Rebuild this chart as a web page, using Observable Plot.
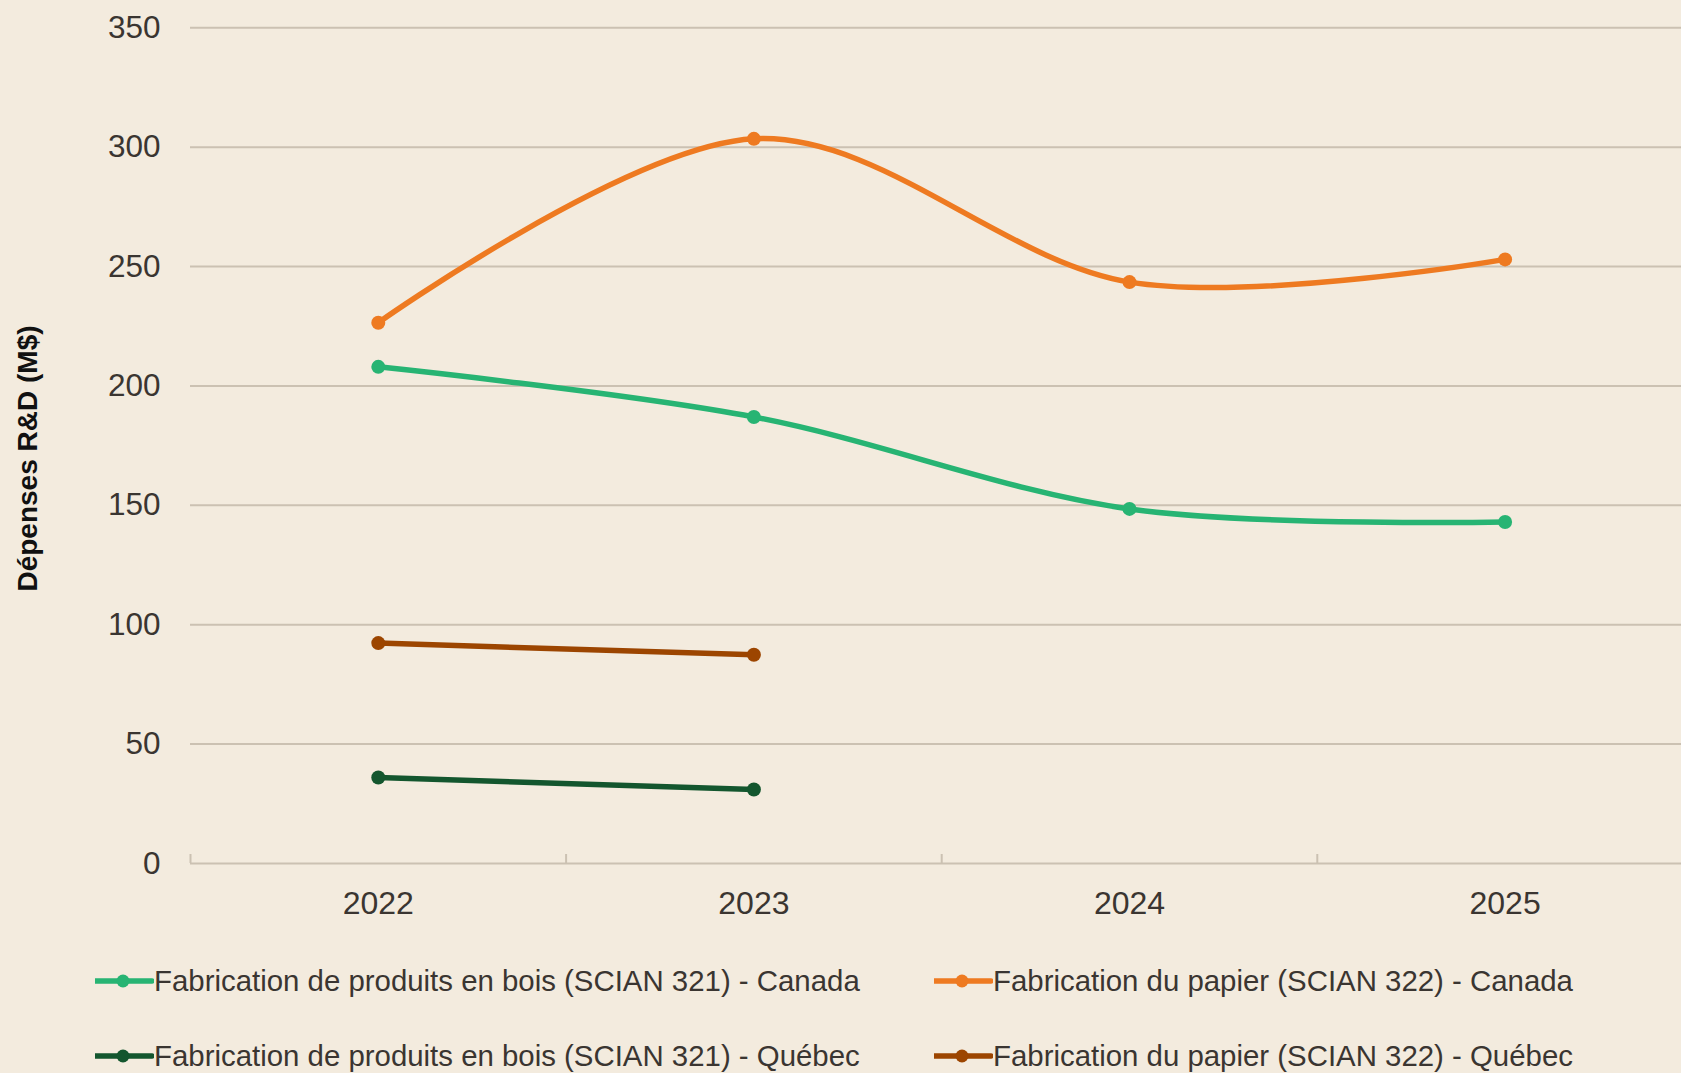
<!DOCTYPE html>
<html>
<head>
<meta charset="utf-8">
<script src="https://cdn.jsdelivr.net/npm/d3@7"></script>
<script src="https://cdn.jsdelivr.net/npm/@observablehq/plot@0.6"></script>
<style>
  html, body { margin: 0; padding: 0; background: #F3EBDE; overflow: hidden; }
  #wrap { position: relative; width: 1681px; height: 1073px; background: #F3EBDE; overflow: hidden; font-family: "Liberation Sans", Arial, sans-serif; }
  #wrap svg.plot { overflow: hidden; }
  .lg { position: absolute; display: flex; align-items: center; height: 40px; font-size: 29.4px; line-height: 40px; color: #3a3531; white-space: nowrap; }
  .lg svg { display: block; margin-right: 0; }
</style>
</head>
<body>
<div id="wrap"></div>
<script>
// ---- data ----
const years = [2022, 2023, 2024, 2025];
const seriesNames = [
  "Fabrication de produits en bois (SCIAN 321) - Canada",
  "Fabrication du papier (SCIAN 322) - Canada",
  "Fabrication de produits en bois (SCIAN 321) - Québec",
  "Fabrication du papier (SCIAN 322) - Québec"
];
const boisCanada   = [208, 187, 148.5, 143];
const papierCanada = [226.5, 303.5, 243.5, 253];
const boisQuebec   = [36, 31, null, null];
const papierQuebec = [92.3, 87.4, null, null];
const seriesColors = ["#27B473", "#EE7A21", "#13562E", "#9C4500"];
const seriesSmooth = [true, true, false, false];
const yTicks = [0, 50, 100, 150, 200, 250, 300, 350];
const yLabel = "Dépenses R&D (M$)";

// ---- build rows ----
const allValues = [boisCanada, papierCanada, boisQuebec, papierQuebec];
const series = seriesNames.map((name, i) => ({
  name, color: seriesColors[i], smooth: seriesSmooth[i],
  rows: years.map((year, j) => ({year, value: allValues[i][j], name}))
             .filter(d => d.value != null)
}));
const boundaries = years.slice(0, -1).map(y => y + 0.5).concat([years[0] - 0.5]);

const gridColor = "#CBC1B2";
const textColor = "#3a3531";

const marks = [
  Plot.gridY(yTicks.filter(t => t > 0), {stroke: gridColor, strokeOpacity: 1, strokeWidth: 2}),
  Plot.ruleY([0], {stroke: gridColor, strokeWidth: 2}),
  Plot.axisX(boundaries, {tickSize: 9, dy: -9, tickFormat: () => "", stroke: gridColor, strokeWidth: 2, label: null}),
  Plot.axisX(years, {tickSize: 0, tickPadding: 28, tickFormat: d => String(d), fontSize: 32, fill: textColor, label: null}),
  Plot.axisY(yTicks, {tickSize: 0, tickPadding: 30, fontSize: 31.5, fill: textColor, label: null}),
  Plot.text([yLabel], {frameAnchor: "left", textAnchor: "middle", rotate: -90, dx: -162, dy: 13, fontSize: 28, fontWeight: "bold", fill: "#111111", text: d => d})
];
for (const s of series) {
  marks.push(Plot.line(s.rows, {x: "year", y: "value", stroke: s.color, strokeWidth: 5.5, curve: s.smooth ? "cardinal" : "linear"}));
}
for (const s of series) {
  marks.push(Plot.dot(s.rows, {x: "year", y: "value", fill: s.color, r: 7, stroke: "none"}));
}

const chart = Plot.plot({
  width: 1681,
  height: 925,
  marginLeft: 190,
  marginRight: 0,
  marginTop: 27,
  marginBottom: 62,
  style: {background: "#F3EBDE", fontFamily: "'Liberation Sans', Arial, sans-serif", color: textColor},
  x: {type: "linear", domain: [years[0] - 0.5, years[years.length - 1] + 0.5], range: [190, 1692.4]},
  y: {domain: [0, 350], range: [863, 27.3]},
  marks
});
const wrap = document.getElementById("wrap");
wrap.appendChild(chart);

// ---- legend (HTML below the SVG) ----
const legendPos = [
  {left: 95, top: 961}, {left: 934, top: 961},
  {left: 95, top: 1036}, {left: 934, top: 1036}
];
series.forEach((s, i) => {
  const item = document.createElement("div");
  item.className = "lg";
  item.style.left = legendPos[i].left + "px";
  item.style.top = legendPos[i].top + "px";
  item.innerHTML = `<svg width="59" height="40"><line x1="1" x2="57" y1="20" y2="20" stroke="${s.color}" stroke-width="5.5" stroke-linecap="round"/><circle cx="28" cy="20" r="6.5" fill="${s.color}"/></svg><span>${s.name}</span>`;
  wrap.appendChild(item);
});
</script>
</body>
</html>
